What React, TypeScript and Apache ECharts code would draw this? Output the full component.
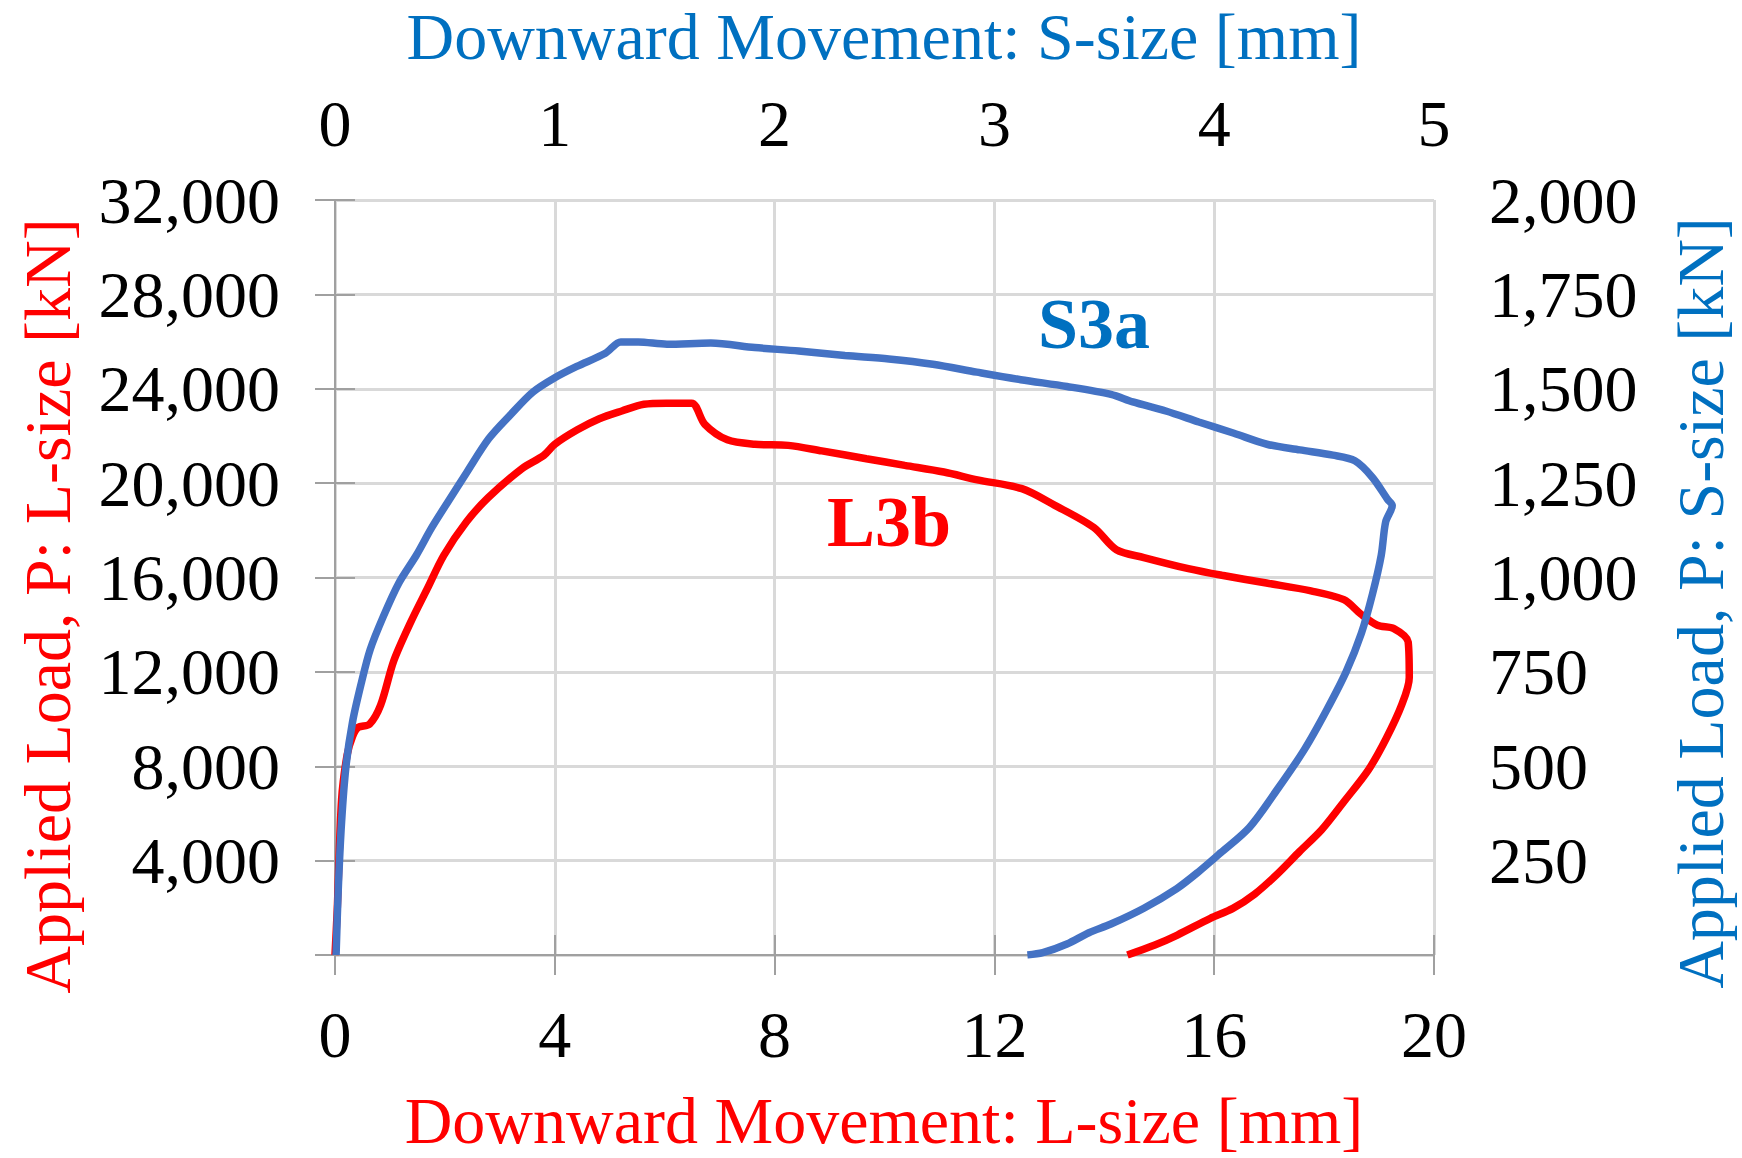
import React, { useEffect, useRef } from "react";
import * as echarts from "echarts";

// L3b (bottom / left axes)
const lDisp = [0, 0.04, 0.12, 0.22, 0.32, 0.42, 0.63, 0.83, 1.07, 1.38, 1.68, 1.98, 2.39, 2.79, 3.4, 3.8, 4.0, 4.41, 4.81, 5.22, 5.62, 6.03, 6.49, 6.73, 7.14, 7.64, 8.25, 8.86, 9.67, 10.37, 11.08, 11.69, 12.5, 13.1, 13.81, 14.22, 14.72, 15.53, 16.14, 16.95, 17.76, 18.36, 18.67, 18.97, 19.27, 19.53, 19.55, 19.41, 19.13, 18.81, 18.36, 17.96, 17.55, 17.15, 16.74, 16.34, 15.93, 15.33, 14.92, 14.42];
const lLoad = [0, 1882, 6588, 8471, 9271, 9647, 9788, 10588, 12471, 14118, 15529, 16941, 18353, 19388, 20612, 21176, 21647, 22259, 22729, 23059, 23341, 23388, 23388, 22494, 21835, 21647, 21600, 21365, 21035, 20753, 20471, 20141, 19765, 19059, 18118, 17176, 16847, 16376, 16094, 15765, 15435, 15059, 14447, 13976, 13835, 13271, 11765, 10588, 9176, 7859, 6494, 5318, 4376, 3435, 2588, 1976, 1553, 847, 424, 0];

// S3a (top / right axes)
const sDisp = [0.005, 0.015, 0.03, 0.05, 0.08, 0.12, 0.16, 0.22, 0.29, 0.37, 0.44, 0.52, 0.6, 0.7, 0.8, 0.9, 1.0, 1.1, 1.23, 1.3, 1.38, 1.51, 1.71, 1.91, 2.11, 2.32, 2.52, 2.72, 2.92, 3.12, 3.33, 3.53, 3.63, 3.78, 3.93, 4.09, 4.24, 4.39, 4.54, 4.64, 4.72, 4.79, 4.81, 4.78, 4.76, 4.72, 4.67, 4.6, 4.51, 4.41, 4.29, 4.16, 4.03, 3.93, 3.83, 3.68, 3.53, 3.43, 3.33, 3.22, 3.15];
const sLoad = [0, 176, 353, 500, 618, 721, 809, 897, 985, 1059, 1132, 1206, 1279, 1368, 1432, 1491, 1529, 1559, 1594, 1624, 1624, 1618, 1621, 1609, 1600, 1588, 1579, 1565, 1544, 1524, 1506, 1485, 1465, 1441, 1412, 1382, 1353, 1338, 1324, 1309, 1265, 1206, 1191, 1147, 1059, 956, 853, 750, 647, 544, 441, 338, 271, 221, 176, 124, 82, 59, 29, 6, 0];

const FONT = "'Liberation Serif', 'Times New Roman', serif";
const RED = "#FF0000";
const BLUE_LINE = "#4472C4";
const BLUE_TEXT = "#0070C0";
const AXIS_GRAY = "#A0A0A0";
const GRID_GRAY = "#D9D9D9";

export default function App() {
  const ref = useRef<HTMLDivElement>(null);
  useEffect(() => {
    const chart = echarts.init(ref.current!, null, { renderer: "svg" });
    const fs = 66;
    const commonAxisLine = { show: true, lineStyle: { color: AXIS_GRAY, width: 2 } };
    const commonTick = { show: true, length: 20, inside: false, lineStyle: { color: AXIS_GRAY, width: 2 } };
    const label = (margin: number, fmt?: (v: number) => string) => ({
      color: "#000",
      fontFamily: FONT,
      fontSize: fs,
      margin,
      formatter: fmt,
    });
    const comma = (v: number) => (v === 0 ? "" : v.toLocaleString("en-US"));
    chart.setOption({
      animation: false,
      backgroundColor: "#fff",
      grid: { left: 335, right: 308, top: 200, bottom: 203, containLabel: false },
      xAxis: [
        {
          type: "value", position: "bottom", min: 0, max: 20, interval: 4,
          axisLine: commonAxisLine, axisTick: commonTick,
          axisLabel: label(46),
          splitLine: { show: true, lineStyle: { color: GRID_GRAY, width: 3 } },
        },
        {
          type: "value", position: "top", min: 0, max: 5, interval: 1,
          axisLine: commonAxisLine, axisTick: commonTick,
          axisLabel: label(44),
          splitLine: { show: false },
        },
      ],
      yAxis: [
        {
          type: "value", position: "left", min: 0, max: 32000, interval: 4000,
          axisLine: commonAxisLine, axisTick: commonTick,
          axisLabel: label(55, comma),
          splitLine: { show: true, lineStyle: { color: GRID_GRAY, width: 3 } },
        },
        {
          type: "value", position: "right", min: 0, max: 2000, interval: 250,
          axisLine: commonAxisLine, axisTick: commonTick,
          axisLabel: label(55, comma),
          splitLine: { show: false },
        },
      ],
      series: [
        {
          name: "L3b", type: "line", xAxisIndex: 0, yAxisIndex: 0,
          data: lDisp.map((v, i) => [v, lLoad[i]]),
          showSymbol: false, smooth: 0.3,
          lineStyle: { color: RED, width: 7.5 }, itemStyle: { color: RED },
        },
        {
          name: "S3a", type: "line", xAxisIndex: 1, yAxisIndex: 1,
          data: sDisp.map((v, i) => [v, sLoad[i]]),
          showSymbol: false, smooth: 0.3,
          lineStyle: { color: BLUE_LINE, width: 7.5 }, itemStyle: { color: BLUE_LINE },
        },
      ],
      graphic: [
        { type: "text", x: 884, y: 36, style: { text: "Downward Movement: S-size [mm]", fill: BLUE_TEXT, font: `${fs}px ${FONT}`, textAlign: "center", textVerticalAlign: "middle" } },
        { type: "text", x: 884, y: 1120, style: { text: "Downward Movement: L-size [mm]", fill: RED, font: `${fs}px ${FONT}`, textAlign: "center", textVerticalAlign: "middle" } },
        { type: "text", x: 47, y: 606, rotation: Math.PI / 2, style: { text: "Applied Load, P: L-size [kN]", fill: RED, font: `${fs}px ${FONT}`, textAlign: "center", textVerticalAlign: "middle" } },
        { type: "text", x: 1700, y: 603, rotation: Math.PI / 2, style: { text: "Applied Load, P: S-size [kN]", fill: BLUE_TEXT, font: `${fs}px ${FONT}`, textAlign: "center", textVerticalAlign: "middle" } },
        { type: "text", x: 1094, y: 324, style: { text: "S3a", fill: BLUE_TEXT, font: `bold 72px ${FONT}`, textAlign: "center", textVerticalAlign: "middle" } },
        { type: "text", x: 889, y: 522, style: { text: "L3b", fill: RED, font: `bold 72px ${FONT}`, textAlign: "center", textVerticalAlign: "middle" } },
      ],
    });
    return () => chart.dispose();
  }, []);
  return <div ref={ref} style={{ position: "absolute", left: 0, top: 0, width: 1742, height: 1158 }} />;
}
